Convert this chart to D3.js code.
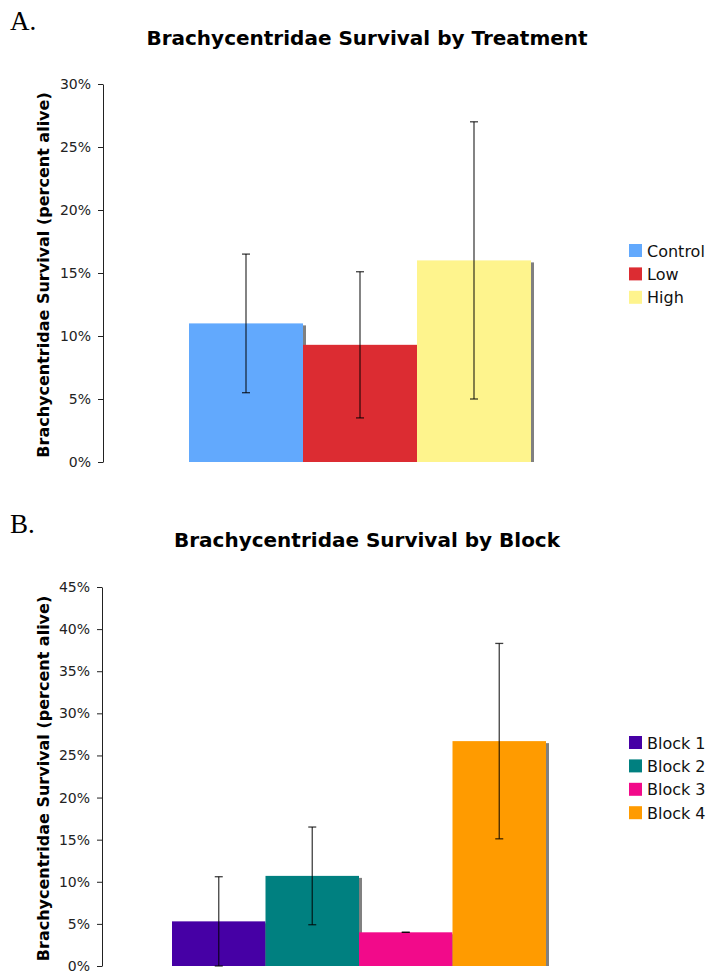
<!DOCTYPE html>
<html>
<head>
<meta charset="utf-8">
<script src="https://cdn.jsdelivr.net/npm/d3@7"></script>
<style>
  body { margin: 0; background: #fff; }
  svg text { font-family: "DejaVu Sans", Verdana, sans-serif; }
</style>
</head>
<body>
<script>
var width = 709;
var height = 975;

// panel A: survival by treatment
var treatments = ["Control", "Low", "High"];
var treatmentMean = [0.110, 0.093, 0.160];
var treatmentErr = [0.055, 0.058, 0.110];
var treatmentColors = ["#62a9fd", "#dc2c32", "#fef48d"];
var treatmentTicks = [0, 0.05, 0.10, 0.15, 0.20, 0.25, 0.30];

// panel B: survival by block
var blocks = ["Block 1", "Block 2", "Block 3", "Block 4"];
var blockMean = [0.053, 0.107, 0.040, 0.267];
var blockErr = [0.053, 0.058, 0.000, 0.116];
var blockColors = ["#4600a5", "#008080", "#f20a8a", "#ff9b00"];
var blockTicks = [0, 0.05, 0.10, 0.15, 0.20, 0.25, 0.30, 0.35, 0.40, 0.45];

var yLabel = "Brachycentridae Survival (percent alive)";

var svg = d3.select("body")
  .append("svg")
  .attr("width", width)
  .attr("height", height);

function drawPanel(opt) {
  var g = svg.append("g");

  var x = d3.scaleBand()
    .domain(opt.cats)
    .range([opt.x0, opt.x1])
    .padding(0);

  var y = d3.scaleLinear()
    .domain([0, d3.max(opt.ticks)])
    .range([opt.yBottom, opt.yTop]);

  // panel letter
  g.append("text")
    .attr("x", 10)
    .attr("y", opt.letterY)
    .style("font-family", "'Liberation Serif', serif")
    .attr("font-size", "27px")
    .attr("fill", "#000")
    .text(opt.letter);

  // title
  g.append("text")
    .attr("x", 367)
    .attr("y", opt.titleY)
    .attr("text-anchor", "middle")
    .attr("font-size", "20px")
    .attr("font-weight", "bold")
    .attr("fill", "#000")
    .text(opt.title);

  // y label
  g.append("text")
    .attr("transform", "translate(49," + ((opt.yTop + opt.yBottom) / 2 + 2) + ") rotate(-90)")
    .attr("text-anchor", "middle")
    .attr("font-size", "16px")
    .attr("font-weight", "bold")
    .attr("fill", "#000")
    .text(yLabel);

  // shadows first, so the next bar covers them
  g.selectAll("rect.shadow")
    .data(opt.mean)
    .enter()
    .append("rect")
    .attr("class", "shadow")
    .attr("x", function(d, i) { return x(opt.cats[i]) + 3; })
    .attr("y", function(d) { return y(d) + 2; })
    .attr("width", x.bandwidth())
    .attr("height", function(d) { return opt.yBottom - y(d) - 2; })
    .attr("fill", "#808080");

  g.selectAll("rect.bar")
    .data(opt.mean)
    .enter()
    .append("rect")
    .attr("class", "bar")
    .attr("x", function(d, i) { return x(opt.cats[i]); })
    .attr("y", function(d) { return y(d); })
    .attr("width", x.bandwidth())
    .attr("height", function(d) { return opt.yBottom - y(d); })
    .attr("fill", function(d, i) { return opt.colors[i]; });

  // error bars
  var eb = g.selectAll("g.err")
    .data(opt.mean)
    .enter()
    .append("g")
    .attr("class", "err")
    .attr("stroke", "#000")
    .attr("stroke-opacity", 0.75)
    .attr("stroke-width", 1.3);

  eb.append("line")
    .attr("x1", function(d, i) { return x(opt.cats[i]) + x.bandwidth() / 2; })
    .attr("x2", function(d, i) { return x(opt.cats[i]) + x.bandwidth() / 2; })
    .attr("y1", function(d, i) { return y(d + opt.err[i]); })
    .attr("y2", function(d, i) { return y(d - opt.err[i]); });

  [1, -1].forEach(function(s) {
    eb.append("line")
      .attr("x1", function(d, i) { return x(opt.cats[i]) + x.bandwidth() / 2 - 4; })
      .attr("x2", function(d, i) { return x(opt.cats[i]) + x.bandwidth() / 2 + 4; })
      .attr("y1", function(d, i) { return y(d + s * opt.err[i]); })
      .attr("y2", function(d, i) { return y(d + s * opt.err[i]); });
  });

  // axis
  var axis = g.append("g")
    .attr("transform", "translate(" + opt.axisX + ",0)")
    .call(d3.axisLeft(y)
      .tickValues(opt.ticks)
      .tickFormat(d3.format(".0%"))
      .tickSize(5)
      .tickSizeOuter(0)
      .tickPadding(7));
  axis.select(".domain").attr("stroke", "#222");
  axis.selectAll(".tick line").attr("stroke", "#222");
  axis.selectAll(".tick text")
    .attr("font-size", "14px")
    .attr("font-family", "'DejaVu Sans', Verdana, sans-serif")
    .attr("fill", "#222");

  // legend
  var leg = g.selectAll("g.leg")
    .data(opt.cats)
    .enter()
    .append("g")
    .attr("class", "leg")
    .attr("transform", function(d, i) {
      return "translate(629," + (opt.legY + i * 23.4) + ")";
    });
  leg.append("rect")
    .attr("x", 0)
    .attr("y", -6.5)
    .attr("width", 13)
    .attr("height", 13)
    .attr("fill", function(d, i) { return opt.colors[i]; });
  leg.append("text")
    .attr("x", 18)
    .attr("y", 6)
    .attr("font-size", "16px")
    .attr("fill", "#111")
    .text(function(d) { return d; });
}

drawPanel({
  letter: "A.",
  letterY: 30,
  title: "Brachycentridae Survival by Treatment",
  titleY: 45,
  cats: treatments,
  mean: treatmentMean,
  err: treatmentErr,
  colors: treatmentColors,
  ticks: treatmentTicks,
  x0: 189,
  x1: 531,
  yTop: 84,
  yBottom: 462,
  axisX: 103,
  legY: 250.5
});

drawPanel({
  letter: "B.",
  letterY: 533,
  title: "Brachycentridae Survival by Block",
  titleY: 547,
  cats: blocks,
  mean: blockMean,
  err: blockErr,
  colors: blockColors,
  ticks: blockTicks,
  x0: 172,
  x1: 546,
  yTop: 587,
  yBottom: 966,
  axisX: 102,
  legY: 742.5
});
</script>
</body>
</html>
